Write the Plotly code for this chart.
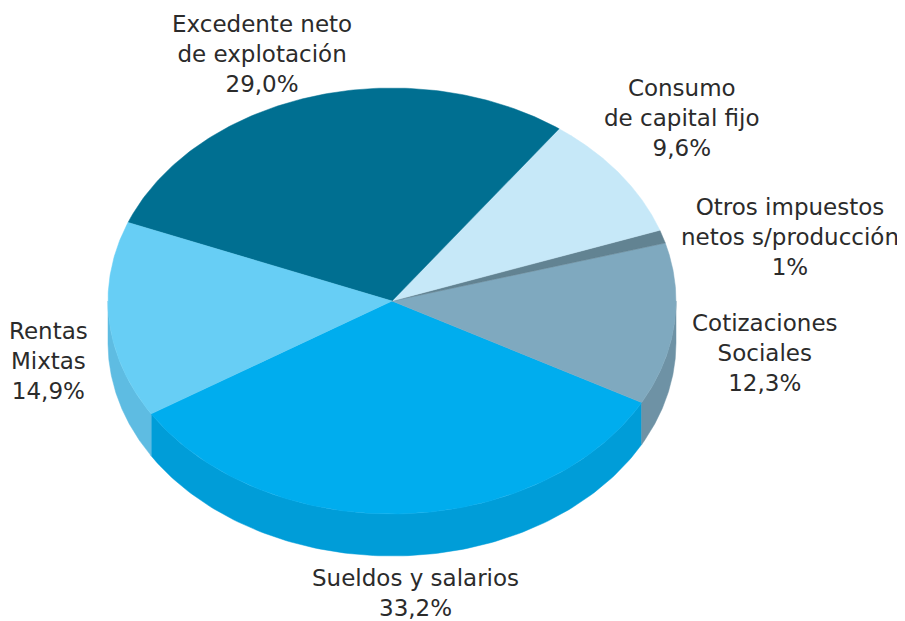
import numpy as np
import plotly.graph_objects as go

# ---- data ----
categories = ["Sueldos y salarios", "Cotizaciones Sociales", "Otros impuestos netos s/producción",
              "Consumo de capital fijo", "Excedente neto de explotación", "Rentas Mixtas"]
values = [33.2, 12.3, 1.0, 9.6, 29.0, 14.9]
label_texts = ["Sueldos y salarios<br>33,2%", "Cotizaciones<br>Sociales<br>12,3%",
               "Otros impuestos<br>netos s/producción<br>1%", "Consumo<br>de capital fijo<br>9,6%",
               "Excedente neto<br>de explotación<br>29,0%", "Rentas<br>Mixtas<br>14,9%"]

# ---- style ----
top_colors = ["#00ADEE", "#7FA9BF", "#628392", "#C6E8F8", "#006F91", "#67CEF5"]
side_colors = ["#009DD8", "#6E92A5", "#567380", "#AFD3E4", "#005E7C", "#5EBCE2"]
label_pos = [(415, 593), (765, 353), (790, 237), (682, 118), (262, 54), (48, 361)]

cx, cy, rx, ry, depth = 392, 301, 284, 213, 42
start_deg = 212.0

fig = go.Figure()

total = sum(values)
angles = [start_deg]
for v in values:
    angles.append(angles[-1] + 360.0 * v / total)

def arc(a0, a1, n=120):
    t = np.radians(np.linspace(a0, a1, n))
    return cx + rx * np.cos(t), cy - ry * np.sin(t)

# sides (visible front: math angles 180..360 mod 360)
for i in range(len(values)):
    a0, a1 = angles[i], angles[i + 1]
    for off in (0, 360, -360):
        lo = max(a0, 180 + off)
        hi = min(a1, 360 + off)
        if hi > lo:
            x, y = arc(lo, hi)
            xs = np.concatenate([x, x[::-1], [x[0]]])
            ys = np.concatenate([y, (y + depth)[::-1], [y[0]]])
            fig.add_trace(go.Scatter(x=xs, y=ys, mode="lines", fill="toself",
                                     fillcolor=side_colors[i], line=dict(width=0.5, color=side_colors[i]),
                                     hoverinfo="skip", showlegend=False))

# top faces
for i in range(len(values)):
    x, y = arc(angles[i], angles[i + 1])
    xs = np.concatenate([[cx], x, [cx]])
    ys = np.concatenate([[cy], y, [cy]])
    fig.add_trace(go.Scatter(x=xs, y=ys, mode="lines", fill="toself",
                             fillcolor=top_colors[i], line=dict(width=0.5, color=top_colors[i]),
                             name=categories[i], hoverinfo="name", showlegend=False))

for txt, (lx, ly) in zip(label_texts, label_pos):
    fig.add_annotation(x=lx, y=ly, text=txt, showarrow=False, xanchor="center", yanchor="middle",
                       font=dict(family="DejaVu Sans", size=23, color="#2B2B2B"))

# page body has an 8px margin: map axis units to page pixels
fig.update_layout(
    width=905, height=621, margin=dict(l=0, r=0, t=0, b=0),
    paper_bgcolor="white", plot_bgcolor="white",
    xaxis=dict(range=[8, 913], visible=False, fixedrange=True),
    yaxis=dict(range=[629, 8], visible=False, fixedrange=True),
)
fig.write_html("out.html")
